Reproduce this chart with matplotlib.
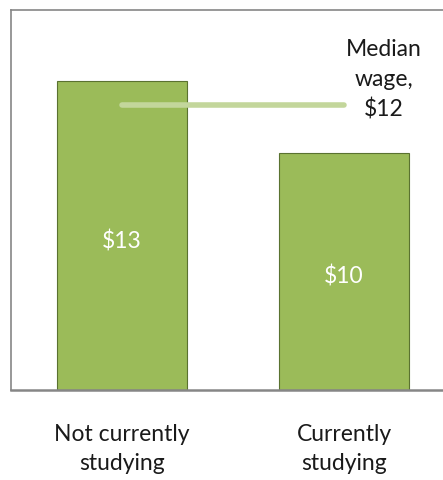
import matplotlib.pyplot as plt

categories = ["Not currently\nstudying", "Currently\nstudying"]
wages = [13, 10]
median_wage = 12

bar_green = "#9bbb59"
edge_green = "#5a7230"
median_green = "#c3d69b"
frame_gray = "#868686"

plt.rcParams["font.family"] = ["Lato", "DejaVu Sans"]

fig = plt.figure(figsize=(4.43, 4.81), dpi=100)
# plot area runs past the right edge of the figure
ax = fig.add_axes([11 / 443, 90 / 481, 444 / 443, 380 / 481])

x = list(range(len(wages)))
ax.bar(x, wages, width=130 / 222, color=bar_green, edgecolor=edge_green, linewidth=0.8, zorder=2)

for xi, w in zip(x, wages):
    ax.text(xi, w / 2 - 0.2, f"${w}", ha="center", va="center", color="white", fontsize=16.5)

# median line between the two bar centres
ax.plot([x[0], x[-1]], [median_wage, median_wage], color=median_green, linewidth=4,
        solid_capstyle="round", zorder=3)
ax.text(1.18, 13.1, f"Median\nwage,\n${median_wage}", ha="center", va="center",
        fontsize=16.5, linespacing=1.52, color="#1a1a1a")

ax.set_xlim(-0.5, 1.5)
ax.set_ylim(0, 16)
ax.set_xticks(x)
ax.set_xticklabels(categories, fontsize=16.5, linespacing=1.48, color="#1a1a1a")
ax.tick_params(axis="x", length=0, pad=24)
ax.set_yticks([])

for side in ["left", "top"]:
    ax.spines[side].set_color(frame_gray)
    ax.spines[side].set_linewidth(1.2)
ax.spines["bottom"].set_color(frame_gray)
ax.spines["bottom"].set_linewidth(1.8)
ax.spines["right"].set_visible(False)

fig.savefig("out.png", dpi=100)
